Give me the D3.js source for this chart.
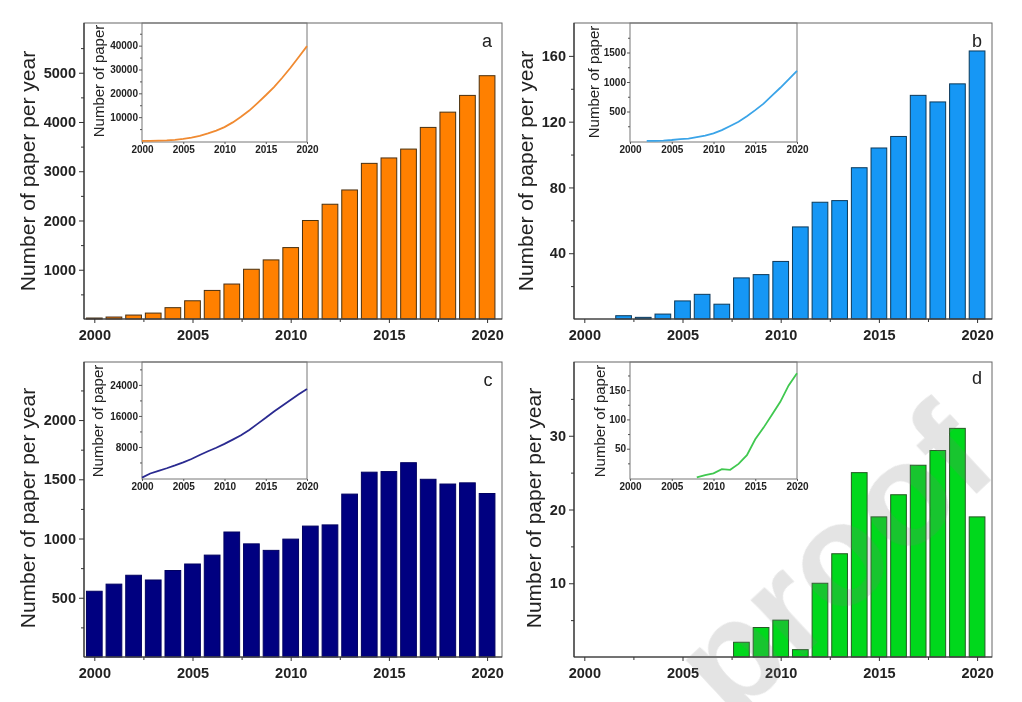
<!DOCTYPE html>
<html>
<head>
<meta charset="utf-8">
<script src="https://cdnjs.cloudflare.com/ajax/libs/d3/7.8.5/d3.min.js"></script>
<style>
  body { margin: 0; background: #fff; }
  text { font-family: "Liberation Sans", Arial, sans-serif; fill: #222; }
  .tick text { font-weight: bold; }
</style>
</head>
<body>
<div id="chart"></div>
<script>
const years = d3.range(2000, 2021);

// papers per year
const perYearA = [20, 40, 80, 120, 230, 370, 580, 710, 1010, 1200, 1450, 2000, 2330, 2620, 3160, 3270, 3450, 3890, 4200, 4540, 4940];
const perYearB = [0, 0, 2, 1, 3, 11, 15, 9, 25, 27, 35, 56, 71, 72, 92, 104, 111, 136, 132, 143, 163];
const perYearC = [555, 615, 690, 650, 730, 785, 860, 1055, 955, 900, 995, 1105, 1115, 1375, 1560, 1565, 1640, 1500, 1460, 1470, 1380];
const perYearD = [0, 0, 0, 0, 0, 0, 0, 0, 2, 4, 5, 1, 10, 14, 25, 19, 22, 26, 28, 31, 19];

// inset curves, null = no line drawn for that year
const totalA = [20, 60, 140, 260, 490, 860, 1440, 2150, 3160, 4360, 5810, 7810, 10140, 12760, 15920, 19190, 22640, 26530, 30730, 35270, 39800];
const totalB = [null, null, 2, 3, 6, 17, 32, 41, 66, 93, 128, 184, 255, 327, 419, 523, 634, 770, 902, 1045, 1190];
const totalC = [100, 1170, 1860, 2510, 3240, 4025, 4885, 5940, 6895, 7795, 8790, 9895, 11010, 12385, 13945, 15510, 17150, 18650, 20110, 21580, 22960];
const totalD = [null, null, null, null, null, null, null, null, 1, 5, 8, 15, 14, 24, 39, 66, 86, 108, 130, 158, 179];

const panels = [
  { name: "a", values: perYearA, totals: totalA, color: "#ff8000", edge: "#4a3010", line: "#f08a30",
    left: 84, right: 502, top: 23, bottom: 319, yTop: 6010, major: [1000, 2000, 3000, 4000, 5000], minor: [500, 1500, 2500, 3500, 4500, 5500],
    titleX: 27, titleY: 171, labelX: 487, labelY: 47,
    inset: { left: 142, right: 307, bottom: 142, yMin: 0, yMax: 49500, ticks: [10000, 20000, 30000, 40000], minor: [5000, 15000, 25000, 35000, 45000], titleX: 98, titleY: 81 } },
  { name: "b", values: perYearB, totals: totalB, color: "#1297f5", edge: "#103a5a", line: "#3aa4e8",
    left: 574, right: 992, top: 23, bottom: 319, yTop: 180, major: [40, 80, 120, 160], minor: [20, 60, 100, 140],
    titleX: 525, titleY: 171, labelX: 977, labelY: 47,
    inset: { left: 630, right: 797, bottom: 142, yMin: 0, yMax: 2000, ticks: [500, 1000, 1500], minor: [250, 750, 1250, 1750], titleX: 593, titleY: 82 } },
  { name: "c", values: perYearC, totals: totalC, color: "#000080", edge: "#000060", line: "#2a2a90",
    left: 84, right: 502, top: 362, bottom: 657, yTop: 2490, major: [500, 1000, 1500, 2000], minor: [250, 750, 1250, 1750, 2250],
    titleX: 27, titleY: 508, labelX: 488, labelY: 386,
    inset: { left: 142, right: 307, bottom: 479, yMin: 0, yMax: 29900, ticks: [8000, 16000, 24000], minor: [4000, 12000, 20000, 28000], titleX: 97, titleY: 421 } },
  { name: "d", values: perYearD, totals: totalD, color: "#00d81a", edge: "#255a25", line: "#40c850",
    left: 574, right: 992, top: 362, bottom: 657, yTop: 40, major: [10, 20, 30], minor: [5, 15, 25, 35],
    titleX: 533, titleY: 508, labelX: 977, labelY: 384,
    inset: { left: 630, right: 797, bottom: 479, yMin: 0, yMax: 198, ticks: [50, 100, 150], minor: [25, 75, 125, 175], titleX: 599, titleY: 421 } }
];

const svg = d3.select("#chart").append("svg")
  .attr("width", 1022)
  .attr("height", 702);

svg.append("filter").attr("id", "soft")
  .append("feGaussianBlur").attr("stdDeviation", 0.55);

const root = svg.append("g").attr("filter", "url(#soft)");

function drawAxisLines(sel, color) {
  sel.select(".domain").remove();
  sel.selectAll("line").attr("stroke", color);
}

function drawPanel(p) {
  const g = root.append("g");
  // x scale runs a bit past the first and last year, bars sit on whole years
  const x = d3.scaleLinear().domain([1999.475, 2020.76]).range([p.left, p.right]);
  const y = d3.scaleLinear().domain([0, p.yTop]).range([p.bottom, p.top]);
  const barW = (x(1) - x(0)) * 0.8;

  g.selectAll("rect.bar")
    .data(years.map((yr, i) => ({ yr, v: p.values[i] })).filter(d => d.v > 0))
    .join("rect")
    .attr("class", "bar")
    .attr("x", d => x(d.yr) - barW / 2)
    .attr("width", barW)
    .attr("y", d => y(d.v))
    .attr("height", d => y(0) - y(d.v))
    .attr("fill", p.color)
    .attr("stroke", p.edge)
    .attr("stroke-width", 1);

  // frame
  g.append("rect")
    .attr("x", p.left).attr("y", p.top)
    .attr("width", p.right - p.left).attr("height", p.bottom - p.top)
    .attr("fill", "none").attr("stroke", "#666").attr("stroke-width", 1);
  g.append("line")
    .attr("x1", p.left).attr("x2", p.right).attr("y1", p.bottom).attr("y2", p.bottom)
    .attr("stroke", "#333").attr("stroke-width", 1.2);
  g.append("line")
    .attr("x1", p.left).attr("x2", p.left).attr("y1", p.top).attr("y2", p.bottom)
    .attr("stroke", "#333").attr("stroke-width", 1.2);

  const xAxis = g.append("g").attr("transform", `translate(0,${p.bottom})`)
    .call(d3.axisBottom(x).tickValues([2000, 2005, 2010, 2015, 2020]).tickFormat(d3.format("d")).tickSize(4).tickPadding(7));
  drawAxisLines(xAxis, "#333");
  xAxis.selectAll("text").attr("font-size", 14.5);

  const xMinor = g.append("g").attr("transform", `translate(0,${p.bottom})`)
    .call(d3.axisBottom(x).tickValues([2002.5, 2007.5, 2012.5, 2017.5]).tickFormat("").tickSize(3));
  drawAxisLines(xMinor, "#333");

  const yAxis = g.append("g").attr("transform", `translate(${p.left},0)`)
    .call(d3.axisLeft(y).tickValues(p.major).tickFormat(d3.format("d")).tickSize(5).tickPadding(3));
  drawAxisLines(yAxis, "#333");
  yAxis.selectAll("text").attr("font-size", 14.5);

  const yMinor = g.append("g").attr("transform", `translate(${p.left},0)`)
    .call(d3.axisLeft(y).tickValues(p.minor).tickFormat("").tickSize(3));
  drawAxisLines(yMinor, "#333");

  g.append("text")
    .attr("transform", `translate(${p.titleX},${p.titleY}) rotate(-90)`)
    .attr("text-anchor", "middle").attr("dominant-baseline", "central")
    .attr("font-size", 21)
    .text("Number of paper per year");

  g.append("text")
    .attr("x", p.labelX).attr("y", p.labelY)
    .attr("text-anchor", "middle")
    .attr("font-size", 18)
    .text(p.name);

  drawInset(g, p);
}

function drawInset(g, p) {
  const s = p.inset;
  const x = d3.scaleLinear().domain([2000, 2020]).range([s.left, s.right]);
  const y = d3.scaleLinear().domain([s.yMin, s.yMax]).range([s.bottom - 1, p.top]);

  g.append("rect")
    .attr("x", s.left).attr("y", p.top)
    .attr("width", s.right - s.left).attr("height", s.bottom - p.top)
    .attr("fill", "none").attr("stroke", "#777").attr("stroke-width", 1);

  const line = d3.line()
    .defined(d => d.v !== null)
    .x(d => x(d.yr))
    .y(d => y(d.v));

  g.append("path")
    .datum(years.map((yr, i) => ({ yr, v: p.totals[i] })))
    .attr("d", line)
    .attr("fill", "none")
    .attr("stroke", p.line)
    .attr("stroke-width", 1.8);

  const xAxis = g.append("g").attr("transform", `translate(0,${s.bottom})`)
    .call(d3.axisBottom(x).tickValues([2000, 2005, 2010, 2015, 2020]).tickFormat(d3.format("d")).tickSize(2).tickPadding(2));
  drawAxisLines(xAxis, "#555");
  xAxis.selectAll("text").attr("font-size", 10);

  const yAxis = g.append("g").attr("transform", `translate(${s.left},0)`)
    .call(d3.axisLeft(y).tickValues(s.ticks).tickFormat(d3.format("d")).tickSize(3).tickPadding(1));
  drawAxisLines(yAxis, "#555");
  yAxis.selectAll("text").attr("font-size", 10);

  const yMinor = g.append("g").attr("transform", `translate(${s.left},0)`)
    .call(d3.axisLeft(y).tickValues(s.minor).tickFormat("").tickSize(2));
  drawAxisLines(yMinor, "#555");

  g.append("text")
    .attr("transform", `translate(${s.titleX},${s.titleY}) rotate(-90)`)
    .attr("text-anchor", "middle").attr("dominant-baseline", "central")
    .attr("font-size", 15)
    .text("Number of paper");
}

panels.forEach(drawPanel);

// grey stamp across the lower right panel
svg.append("text")
  .attr("transform", "translate(731,723) rotate(-43)")
  .attr("font-size", 145)
  .attr("font-weight", "bold")
  .style("font-family", '"Liberation Sans", Arial, sans-serif')
  .style("fill", "#777")
  .attr("fill-opacity", 0.2)
  .text("proof");
</script>
</body>
</html>
